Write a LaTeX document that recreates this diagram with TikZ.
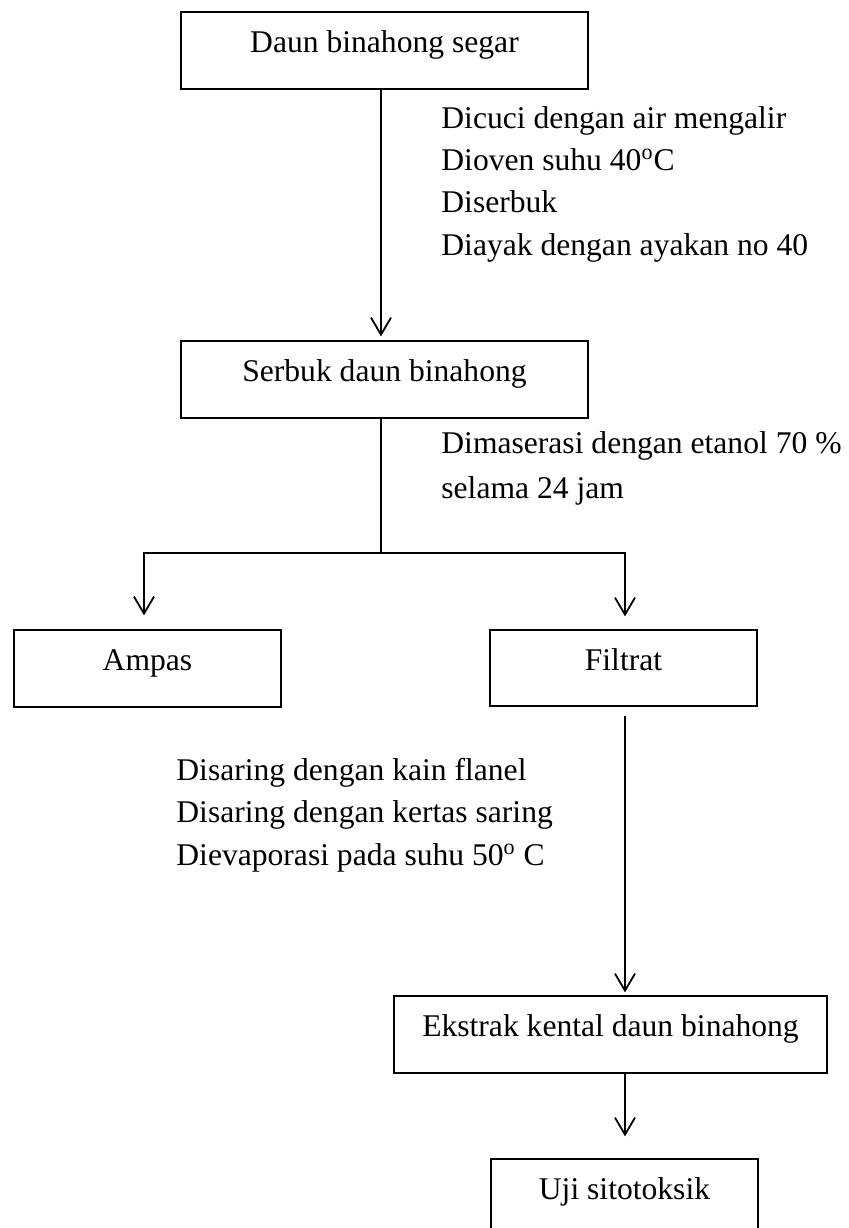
\documentclass[tikz,border=0pt]{standalone}
\usepackage{fontspec}
\setmainfont{Liberation Serif}
\usetikzlibrary{arrows.meta}

\tikzset{
  stage/.style={draw, line width=0.6pt, inner sep=0pt, minimum height=38.5pt, text height=12pt, text depth=10pt},
  flow/.style={line width=0.9pt, -{Straight Barb[length=8.5pt,width=10pt]}},
  stem/.style={line width=0.9pt},
  note/.style={anchor=base west, inner sep=0pt}
}

\begin{document}
\begin{tikzpicture}[x=0.5pt, y=-0.5pt, font=\fontsize{15.8pt}{19pt}\selectfont]
\useasboundingbox (0,0) rectangle (848,1228);

% boxes
\node[stage, minimum width=203.5pt] (segar) at (384.5, 50.5) {Daun binahong segar};
\node[stage, minimum width=203.5pt] (serbuk) at (384.5, 379.5) {Serbuk daun binahong};
\node[stage, minimum width=133.5pt] (ampas) at (147.5, 668.5) {Ampas};
\node[stage, minimum width=133.5pt, minimum height=38pt] (filtrat) at (623.5, 668) {Filtrat};
\node[stage, minimum width=216.5pt] (ekstrak) at (610.5, 1034.5) {Ekstrak kental daun binahong};
\node[stage, minimum width=133.5pt] (uji) at (624.5, 1197.5) {Uji sitotoksik};

% segar -> serbuk
\draw[flow, shorten >=2pt] ([xshift=-1.75pt]segar.south) -- ([xshift=-1.75pt]serbuk.north);
\node[note] (cuci) at (441, 128) {Dicuci dengan air mengalir};
\node[note] (oven) at (441, 170) {Dioven suhu 40\textsuperscript{o}C};
\node[note] (giling) at (441, 212) {Diserbuk};
\node[note] (ayak) at (441, 255) {Diayak dengan ayakan no 40};

% serbuk -> ampas, filtrat
\coordinate (split) at (381, 553);
\draw[stem] ([xshift=-1.75pt]serbuk.south) -- (split);
\draw[flow, shorten >=7pt] (split) -| ([xshift=-1.75pt]ampas.north);
\draw[flow, shorten >=6.5pt] (split) -| ([xshift=0.75pt]filtrat.north);
\node[note] (maserasi) at (441, 453) {Dimaserasi dengan etanol 70 \%};
\node[note] (lama) at (441, 498) {selama 24 jam};

% filtrat -> ekstrak
\draw[flow, shorten <=4.5pt, shorten >=1.5pt] ([xshift=0.75pt]filtrat.south) -- ([xshift=0.75pt]filtrat.south |- ekstrak.north);
\node[note] (flanel) at (176, 780) {Disaring dengan kain flanel};
\node[note] (kertas) at (176, 822) {Disaring dengan kertas saring};
\node[note] (uap) at (176, 865) {Dievaporasi pada suhu 50\textsuperscript{o} C};

% ekstrak -> uji
\draw[flow, shorten >=11pt] ([xshift=0.25pt]ekstrak.south -| uji.north) -- ([xshift=0.25pt]uji.north);

\end{tikzpicture}
\end{document}
